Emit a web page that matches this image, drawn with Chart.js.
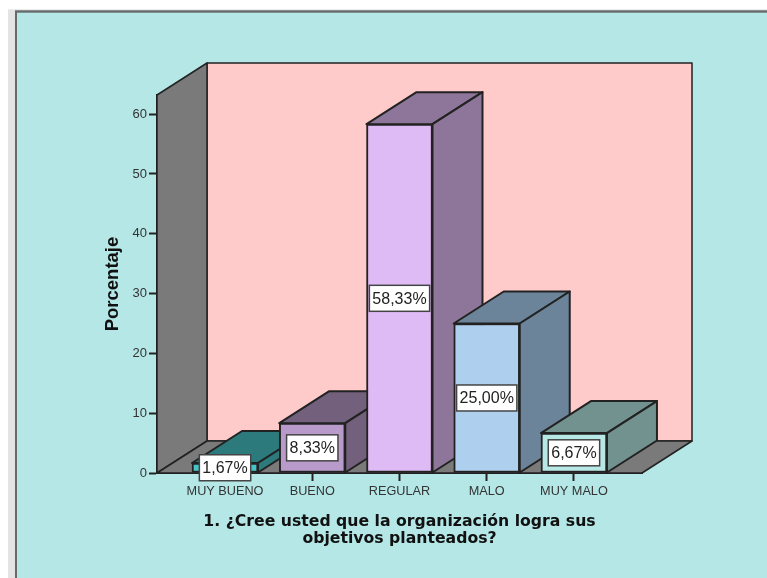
<!DOCTYPE html>
<html>
<head>
<meta charset="utf-8">
<style>
  html, body { margin: 0; padding: 0; background: #fff; }
  #wrap { width: 767px; height: 578px; }
</style>
<script src="https://cdn.jsdelivr.net/npm/chart.js@4/dist/chart.umd.min.js"></script>
</head>
<body>
<div id="wrap"><canvas id="grafico" width="767" height="578"></canvas></div>
<script>
const categorias = ["MUY BUENO", "BUENO", "REGULAR", "MALO", "MUY MALO"];
const porcentajes = [1.67, 8.33, 58.33, 25.0, 6.67];
const coloresFrente = ["#48c4c9", "#b89bca", "#dfbbf5", "#aed0ee", "#b8e8e6"];
const coloresLado = ["#2c7a7c", "#72607c", "#8d7699", "#6c8499", "#72928f"];
const marcasY = [0, 10, 20, 30, 40, 50, 60];
const tituloX = ["1. ¿Cree usted que la organización logra sus", "objetivos planteados?"];
const tituloY = "Porcentaje";

const FONDO = "#b5e7e7";
const LINEA = "#222222";
// desplazamiento de la profundidad 3D
const DX = 50;
const DY = -32;

function poligono(ctx, puntos, relleno) {
  ctx.beginPath();
  puntos.forEach((p, i) => i ? ctx.lineTo(p[0], p[1]) : ctx.moveTo(p[0], p[1]));
  ctx.closePath();
  ctx.fillStyle = relleno;
  ctx.fill();
  ctx.stroke();
}

const marco = {
  id: "marco",
  beforeDraw(chart) {
    const ctx = chart.ctx;
    ctx.save();
    ctx.fillStyle = "#e4e4e4";
    ctx.fillRect(8, 9.3, 759, 569);
    ctx.fillStyle = "#666a6a";
    ctx.fillRect(15, 10.3, 752, 568);
    ctx.fillStyle = FONDO;
    ctx.fillRect(17, 12.7, 750, 566);
    ctx.restore();
  }
};

const caja3d = {
  id: "caja3d",
  beforeDatasetsDraw(chart) {
    const ctx = chart.ctx;
    const { left: l, right: r, top: t, bottom: b } = chart.chartArea;
    ctx.save();
    ctx.strokeStyle = LINEA;
    ctx.lineWidth = 1.5;
    ctx.lineJoin = "round";
    // pared de fondo, pared izquierda y suelo
    poligono(ctx, [[l + DX, t + DY], [r + DX, t + DY], [r + DX, b + DY], [l + DX, b + DY]], "#ffcaca");
    poligono(ctx, [[l, t], [l + DX, t + DY], [l + DX, b + DY], [l, b]], "#7a7a7a");
    poligono(ctx, [[l, b], [l + DX, b + DY], [r + DX, b + DY], [r, b]], "#7a7a7a");
    // caras superior y lateral de cada barra, el frente lo dibuja Chart.js
    ctx.lineWidth = 2;
    chart.getDatasetMeta(0).data.forEach((bar, i) => {
      const x1 = bar.x - bar.width / 2;
      const x2 = bar.x + bar.width / 2;
      poligono(ctx, [[x1, bar.y], [x1 + DX, bar.y + DY], [x2 + DX, bar.y + DY], [x2, bar.y]], coloresLado[i]);
      poligono(ctx, [[x2, bar.y], [x2 + DX, bar.y + DY], [x2 + DX, bar.base + DY], [x2, bar.base]], coloresLado[i]);
    });
    ctx.restore();
  },
  afterDraw(chart) {
    // etiquetas de porcentaje centradas en el frente de cada barra
    const ctx = chart.ctx;
    ctx.save();
    ctx.font = "16px 'Liberation Sans'";
    ctx.textAlign = "center";
    ctx.textBaseline = "middle";
    chart.getDatasetMeta(0).data.forEach((bar, i) => {
      const texto = porcentajes[i].toFixed(2).replace(".", ",") + "%";
      const w = ctx.measureText(texto).width + 6;
      const h = 26;
      const cy = (bar.y + bar.base) / 2;
      ctx.fillStyle = "#ffffff";
      ctx.fillRect(bar.x - w / 2, cy - h / 2, w, h);
      ctx.strokeStyle = "#444444";
      ctx.lineWidth = 1.5;
      ctx.strokeRect(bar.x - w / 2, cy - h / 2, w, h);
      ctx.fillStyle = "#222222";
      ctx.fillText(texto, bar.x, cy + 1);
    });
    ctx.restore();
  }
};

new Chart(document.getElementById("grafico"), {
  type: "bar",
  data: {
    datasets: [{
      data: porcentajes.map((v, i) => ({ x: i, y: v })),
      backgroundColor: coloresFrente,
      borderColor: LINEA,
      borderWidth: 2,
      borderSkipped: false,
      barThickness: 66
    }]
  },
  options: {
    responsive: false,
    animation: false,
    layout: { padding: { top: 95, right: 125, left: 0, bottom: 0 } },
    plugins: { legend: { display: false }, tooltip: { enabled: false } },
    scales: {
      x: {
        type: "linear",
        offset: false,
        min: -0.78,
        max: 4.78,
        afterBuildTicks: scale => { scale.ticks = categorias.map((c, i) => ({ value: i })); },
        afterFit: scale => { scale.height = 105; },
        ticks: {
          callback: v => categorias[v],
          autoSkip: false,
          maxRotation: 0,
          padding: 3,
          color: "#333333",
          font: { family: "'Liberation Sans'", size: 12.7 }
        },
        grid: { offset: false, drawOnChartArea: false, tickLength: 8, color: LINEA, tickWidth: 2 },
        border: { color: LINEA, width: 2 },
        title: {
          display: true,
          text: tituloX,
          color: "#111111",
          padding: { top: 0, bottom: 31 },
          font: { family: "'DejaVu Sans'", size: 15.7, weight: "bold", lineHeight: 1.08 }
        }
      },
      y: {
        min: 0,
        max: 63.2,
        afterBuildTicks: scale => { scale.ticks = marcasY.map(v => ({ value: v })); },
        afterFit: scale => { scale.width = 157; },
        ticks: {
          padding: 2,
          color: "#333333",
          font: { family: "'Liberation Sans'", size: 13 }
        },
        grid: { drawOnChartArea: false, tickLength: 8, color: LINEA, tickWidth: 2 },
        border: { color: LINEA, width: 2 },
        title: {
          display: true,
          text: tituloY,
          color: "#111111",
          padding: { top: 102, bottom: 0 },
          font: { family: "'Liberation Sans'", size: 18.5, weight: "bold" }
        }
      }
    }
  },
  plugins: [marco, caja3d]
});
</script>
</body>
</html>
